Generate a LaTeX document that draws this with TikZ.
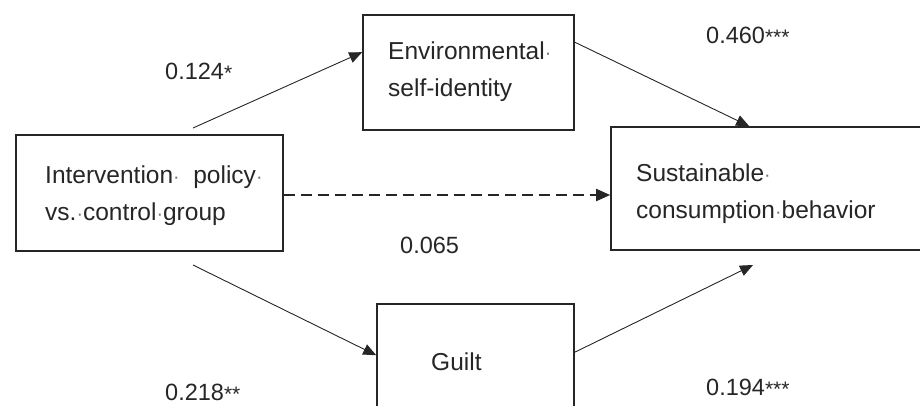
\documentclass[tikz,border=0pt]{standalone}
\usepackage{fontspec}
\setmainfont{Liberation Sans}
\usetikzlibrary{arrows.meta}
\newcommand{\md}{\textcolor{black!55}{\scalebox{0.8}{·}}}
\newcommand{\sigstar}[1]{\raisebox{-1pt}{\fontsize{21}{21}\selectfont #1}}
\begin{document}
\begin{tikzpicture}[x=1pt,y=-1pt,
  box/.style={draw=black!85,line width=1.6pt,inner sep=0pt},
  txt/.style={anchor=base west,inner sep=0pt,font=\fontsize{24.5}{28}\selectfont,text=black!85},
  lbl/.style={anchor=base west,inner sep=0pt,font=\fontsize{23.5}{28}\selectfont,text=black!85},
  arr/.style={draw=black!85,line width=0.9pt,-{Triangle[length=13pt,width=11pt]}}]
\useasboundingbox (0,0) rectangle (920,405);
% boxes
\node[box,minimum width=267pt,minimum height=116pt] (left) at (149.5,193) {};
\node[box,minimum width=211pt,minimum height=115pt] (env) at (468.5,72.5) {};
\node[box,minimum width=316pt,minimum height=123pt] (sust) at (769,188.5) {};
\node[box,minimum width=197pt,minimum height=120pt] (guilt) at (475.5,364) {};
% box texts
\node[txt] (l1) at (45,183) {Intervention\md\ \ policy\md};
\node[txt] (l2) at (45,220) {vs.\md control\md group};
\node[txt] (e1) at (388,59) {Environmental\md};
\node[txt] (e2) at (388,96) {self-identity};
\node[txt] (s1) at (636,181) {Sustainable\md};
\node[txt] (s2) at (636,218) {consumption\md behavior};
\node[txt] (g1) at (431,370) {Guilt};
% labels
\node[lbl] (a) at (165,79) {0.124\sigstar{*}};
\node[lbl] (b) at (706,43) {0.460\sigstar{***}};
\node[lbl] (c) at (400,253) {0.065};
\node[lbl] (d) at (165,400) {0.218\sigstar{**}};
\node[lbl] (e) at (706,395) {0.194\sigstar{***}};
% connectors
\coordinate (c1) at (193,128);
\coordinate (c4) at (193,265);
\coordinate (c5) at (753,265);
\draw[arr] (c1) -- ([yshift=-38pt]env.north west);
\draw[arr] ([yshift=-28pt]env.north east) -- ([xshift=139pt]sust.north west);
\draw[arr,line width=1.8pt,dash pattern=on 11pt off 6pt,-{Triangle[length=14pt,width=12pt]}] ([yshift=-2pt]left.east) -- ([yshift=-6.5pt]sust.west);
\draw[arr] (c4) -- ([yshift=-52pt]guilt.north west);
\draw[arr] ([yshift=-49pt]guilt.north east) -- (c5);
\end{tikzpicture}
\end{document}
